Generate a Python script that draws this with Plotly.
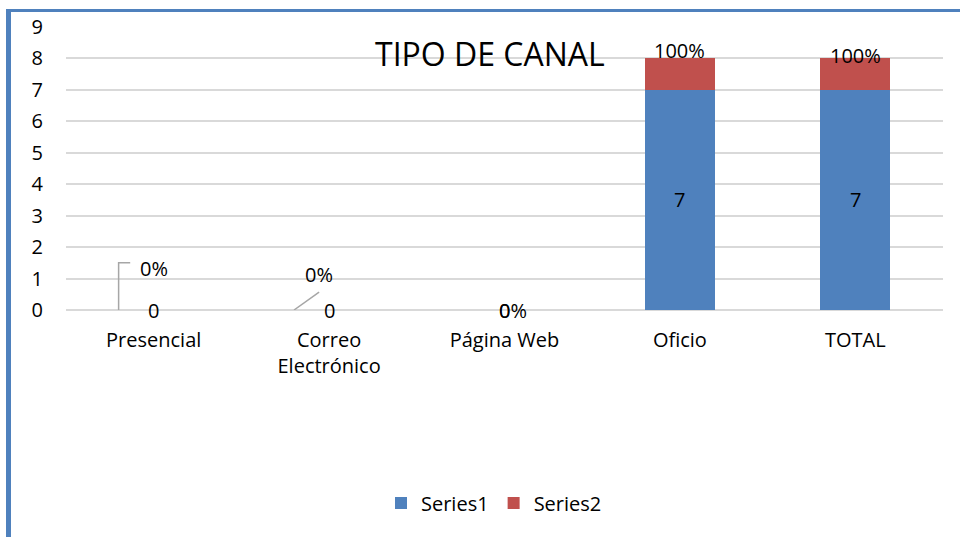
import plotly.graph_objects as go

categories = ["Presencial", "Correo<br>Electrónico", "Página Web", "Oficio", "TOTAL"]
series1 = [0, 0, 0, 7, 7]
series2 = [0, 0, 0, 1, 1]
series2_labels = ["0%", "0%", "0%", "100%", "100%"]
y_ticks = [0, 1, 2, 3, 4, 5, 6, 7, 8, 9]

# label offsets in pixels (styling only)
s2_dx = [0, -10, 8, 0, 0]
s2_dy = [42, 36, 0, 8, 3]

FONT = "Open Sans, Calibri, sans-serif"
FS = 20
BLUE = "#4F81BD"
RED = "#C0504D"

L, R, T, B = 66, 17, 27, 227
W, H = 960, 537
pw, ph = W - L - R, H - T - B
def px(xp):
    return (xp - L) / pw
def py(yp):
    return (H - B - yp) / ph

fig = go.Figure()
fig.add_trace(go.Bar(x=categories, y=series1, name="Series1", marker=dict(color=BLUE, line=dict(width=0))))
fig.add_trace(go.Bar(x=categories, y=series2, name="Series2", marker=dict(color=RED, line=dict(width=0))))

ann = []
for i, c in enumerate(categories):
    ann.append(dict(x=c, y=series1[i] / 2, text=str(series1[i]), showarrow=False,
                    font=dict(size=FS, color="#000000", family=FONT), xref="x", yref="y",
                    yanchor="middle"))
    ann.append(dict(x=c, y=series1[i] + series2[i], text=series2_labels[i], showarrow=False,
                    xshift=s2_dx[i], yshift=s2_dy[i], yanchor="middle",
                    font=dict(size=FS, color="#000000", family=FONT), xref="x", yref="y"))

ann.append(dict(text="TIPO DE CANAL", x=px(490), y=py(53), xref="paper", yref="paper",
                xanchor="center", yanchor="middle",
                showarrow=False, font=dict(size=32, color="#000000", family=FONT)))

shapes = [
    # leader lines
    dict(type="path", xref="x", yref="y", path="M -0.2,0 L -0.2,1.5 L -0.134,1.5",
         line=dict(color="#A6A6A6", width=1.5)),
    dict(type="line", xref="x", yref="y", x0=0.8, y0=0, x1=0.943, y1=0.57,
         line=dict(color="#A6A6A6", width=1.5)),
    # outer blue frame (left & top)
    dict(type="line", xref="paper", yref="paper", x0=px(8.5), x1=px(8.5), y0=py(9), y1=py(540),
         line=dict(color=BLUE, width=5)),
    dict(type="line", xref="paper", yref="paper", x0=px(6), x1=px(962), y0=py(10.5), y1=py(10.5),
         line=dict(color=BLUE, width=3)),
]

fig.update_layout(
    barmode="stack",
    bargap=0.6,
    width=W, height=H,
    margin=dict(l=L, r=R, t=T, b=B, autoexpand=False),
    paper_bgcolor="white", plot_bgcolor="white",
    font=dict(family=FONT, size=FS, color="#000000"),
    annotations=ann,
    shapes=shapes,
    showlegend=True,
    legend=dict(orientation="h", xref="container", yref="container", x=494 / 960, y=1 - 503 / 537,
                xanchor="center", yanchor="middle", font=dict(size=FS, family=FONT),
                itemwidth=30, traceorder="normal"),
    xaxis=dict(showgrid=False, showline=False, ticks="", tickfont=dict(size=FS), ticklabelstandoff=16),
    yaxis=dict(range=[0, 9], tickvals=y_ticks, showgrid=True, gridcolor="#D9D9D9", gridwidth=1.5,
               zeroline=True, zerolinecolor="#D9D9D9", zerolinewidth=1.5, showline=False, ticks="",
               tickfont=dict(size=FS), ticklabelstandoff=22),
)

fig.write_html("out.html", config={"displayModeBar": False},
               post_script="document.body.style.margin='0';document.body.style.overflow='hidden';")
